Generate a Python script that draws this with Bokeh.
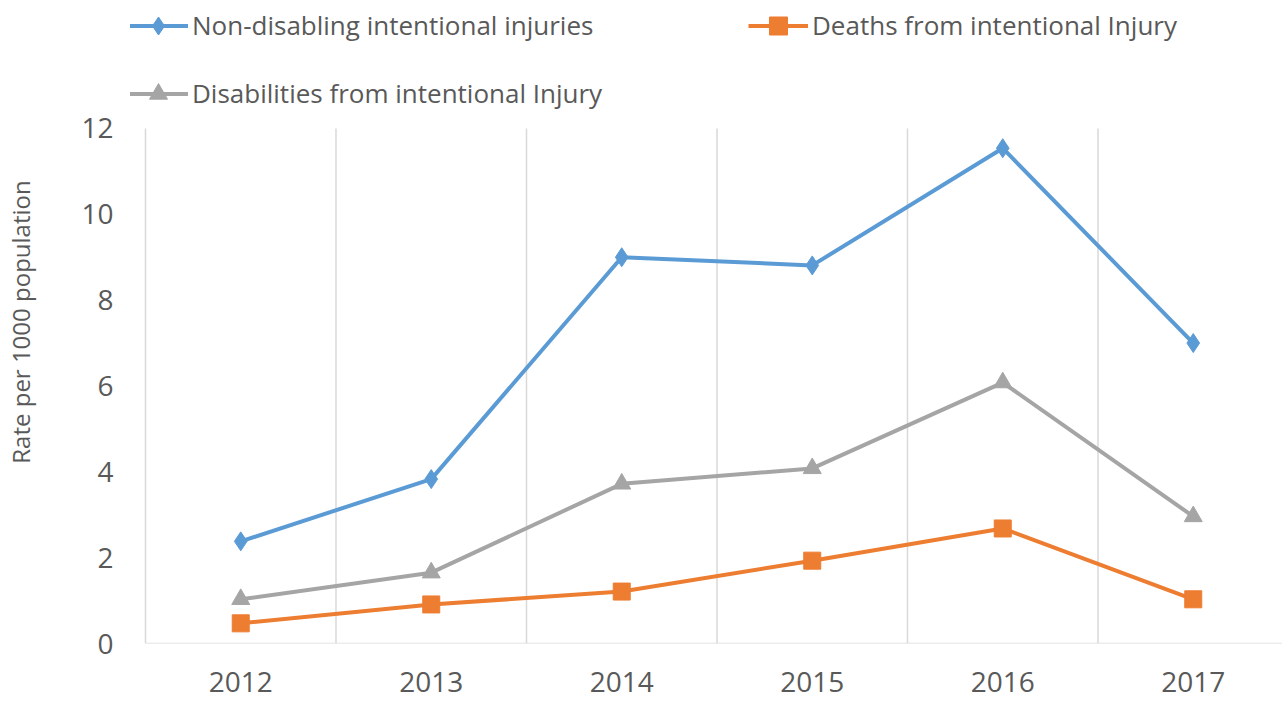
from bokeh.plotting import figure
from bokeh.models import Range1d, FixedTicker, Legend, LegendItem
from bokeh.embed import file_html
from bokeh.resources import INLINE

years = ["2012", "2013", "2014", "2015", "2016", "2017"]
non_disabling = [2.38, 3.83, 9.0, 8.81, 11.54, 7.0]
deaths = [0.47, 0.91, 1.21, 1.93, 2.68, 1.03]
disabilities = [1.03, 1.65, 3.72, 4.08, 6.08, 2.96]
y_ticks = [0, 2, 4, 6, 8, 10, 12]

xs = list(range(len(years)))
bounds = [i - 0.5 for i in range(len(years) + 1)]
FONT = "Open Sans"
TXT = "#595959"
GRID = "#d9d9d9"

p = figure(width=1282, height=702, output_backend="svg", toolbar_location=None,
           x_range=Range1d(-0.5787, 5.4685), y_range=Range1d(0, 14.982),
           min_border_left=130, min_border_right=0, min_border_top=0, min_border_bottom=59)
p.outline_line_color = None
p.background_fill_color = "white"
p.border_fill_color = "white"
p.grid.grid_line_color = None

# category boundary gridlines and baseline
p.segment(x0=bounds, y0=[y_ticks[0]] * len(bounds), x1=bounds, y1=[y_ticks[-1]] * len(bounds),
          line_color=GRID, line_width=1.5)
p.segment(x0=[bounds[0]], y0=[0], x1=[bounds[-1]], y1=[0], line_color=GRID, line_width=1.5)

# axes
p.xaxis.ticker = FixedTicker(ticks=xs)
p.xaxis.major_label_overrides = {i: y for i, y in enumerate(years)}
p.xaxis.major_label_text_font = FONT
p.xaxis.major_label_text_font_size = "28px"
p.xaxis.major_label_text_color = TXT
p.xaxis.major_tick_line_color = None
p.xaxis.minor_tick_line_color = None
p.xaxis.major_tick_out = 0
p.xaxis.major_tick_in = 0
p.xaxis.major_label_standoff = 28
p.xaxis.axis_line_color = None

p.yaxis.ticker = FixedTicker(ticks=y_ticks)
p.yaxis.major_label_text_font = FONT
p.yaxis.major_label_text_font_size = "28px"
p.yaxis.major_label_text_color = TXT
p.yaxis.major_tick_line_color = None
p.yaxis.minor_tick_line_color = None
p.yaxis.major_tick_out = 0
p.yaxis.major_tick_in = 0
p.yaxis.major_label_standoff = 17
p.yaxis.axis_line_color = None
p.yaxis.axis_label = "Rate per 1000 population"
p.yaxis.axis_label_text_font = FONT
p.yaxis.axis_label_text_font_size = "24px"
p.yaxis.axis_label_text_font_style = "normal"
p.yaxis.axis_label_text_color = TXT
p.yaxis.axis_label_standoff = 41

# series
l1 = p.line(xs, non_disabling, line_color="#5B9BD5", line_width=4)
m1 = p.scatter(xs, non_disabling, marker="diamond", size=19, color="#5B9BD5")
l2 = p.line(xs, deaths, line_color="#ED7D31", line_width=4)
m2 = p.scatter(xs, deaths, marker="square", size=17, color="#ED7D31")
l3 = p.line(xs, disabilities, line_color="#A5A5A5", line_width=4)
m3 = p.scatter(xs, disabilities, marker="triangle", size=18, color="#A5A5A5")

common = dict(label_text_font=FONT, label_text_font_size="26px", label_text_color=TXT,
              glyph_width=60, glyph_height=45, label_height=45, label_standoff=4, margin=0,
              padding=0, border_line_color=None, background_fill_alpha=0,
              orientation="horizontal")

leg1 = Legend(items=[LegendItem(label="Non-disabling intentional injuries", renderers=[l1, m1]),
                     LegendItem(label="Deaths from intentional Injury", renderers=[l2, m2])],
              spacing=0, label_width=556, location=(-2, 595.5), **common)
leg2 = Legend(items=[LegendItem(label="Disabilities from intentional Injury", renderers=[l3, m3])],
              location=(-2, 527.5), **common)
p.add_layout(leg1)
p.add_layout(leg2)

open("out.html", "w").write(file_html(p, INLINE))
